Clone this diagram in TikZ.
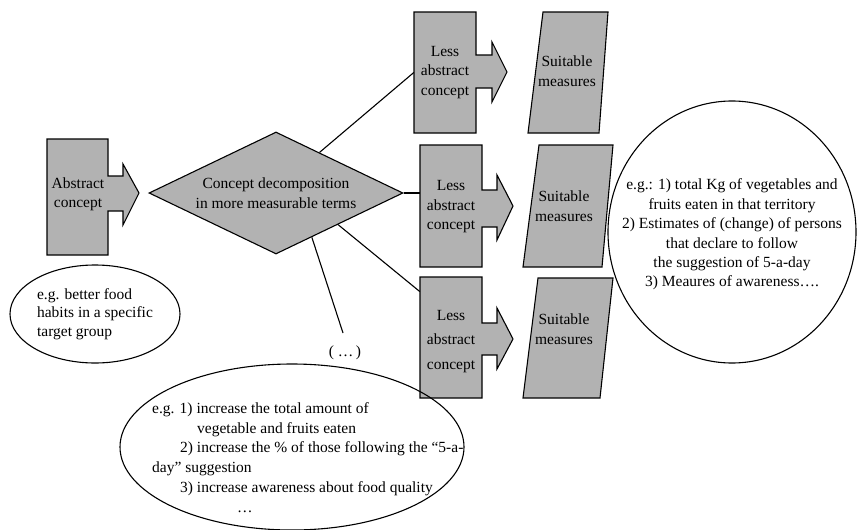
\documentclass[tikz,border=0pt]{standalone}
\usepackage{fontspec}
\setmainfont{Liberation Serif}
\usetikzlibrary{shapes.geometric}
\definecolor{boxgray}{RGB}{178,178,178}
\begin{document}
\begin{tikzpicture}[x=1pt,y=-1pt,
  shapeline/.style={draw=black,line width=1.1pt,fill=boxgray,line join=miter},
  link/.style={draw=black,line width=1.1pt},
  txt/.style={font=\fontsize{15.5}{19.5}\selectfont,inner sep=0pt,align=center},
  slot/.style={txt,minimum width=62pt,minimum height=121pt},
  bubble/.style={draw=black,line width=1.1pt,ellipse,inner sep=0pt}
]
\useasboundingbox (0,0) rectangle (857,530);

% abstract concept box with its arrow
\draw[shapeline] (47,139) -- (108,139) -- (108,176) -- (123,176) -- (123,164)
  -- (139,193) -- (123,225) -- (123,211) -- (108,211) -- (108,255) -- (47,255) -- cycle;
\node[slot,minimum width=61pt,minimum height=116pt] (abs) at (78,194.5) {Abstract\\concept};

% decomposition diamond
\node[shapeline,txt,diamond,aspect=2,minimum width=254pt,minimum height=122pt]
  (dec) at (276,193) {Concept decomposition\\in more measurable terms};

% less abstract concept boxes with arrows
\draw[shapeline] (414,12) -- (476,12) -- (476,55) -- (492,55) -- (492,42)
  -- (507,72) -- (492,102) -- (492,88) -- (476,88) -- (476,133) -- (414,133) -- cycle;
\node[slot] (lac1) at (445,72.5) {Less\\abstract\\concept};

\draw[shapeline] (420,145) -- (482,145) -- (482,190) -- (497,190) -- (497,175)
  -- (513,206) -- (497,240) -- (497,227) -- (482,227) -- (482,267) -- (420,267) -- cycle;
\node[slot] (lac2) at (451,207) {Less\\abstract\\concept};

\draw[shapeline] (420,277) -- (482,277) -- (482,323) -- (497,323) -- (497,308)
  -- (513,339) -- (497,369) -- (497,355) -- (482,355) -- (482,398) -- (420,398) -- cycle;
\node[slot,font=\fontsize{15.5}{24.5}\selectfont] (lac3) at (451,341.5) {Less\\abstract\\concept};

% suitable measures
\draw[shapeline] (543,12) -- (608,12) -- (599,133) -- (528,133) -- cycle;
\node[txt] (sm1) at (567,71) {Suitable\\measures};
\draw[shapeline] (539,145) -- (613,145) -- (602,267) -- (523,267) -- cycle;
\node[txt] (sm2) at (564,206) {Suitable\\measures};
\draw[shapeline] (538,278) -- (613,278) -- (600,398) -- (523,398) -- cycle;
\node[txt] (sm3) at (564,329) {Suitable\\measures};

% connectors from the diamond
\coordinate (more end) at (343,333);
\draw[link] (dec.43.6) -- (lac1.west);
\draw[link] (dec.east) -- (dec.east -| lac2.west);
\draw[link] (dec.-27) -- (lac3.122.6);
\draw[link] (dec.-51.3) -- (more end);
\node[txt] (more) at (345,353) {( …\,)};

% example bubbles
\node[bubble,txt,align=left,font=\fontsize{15.5}{18.5}\selectfont,
  minimum width=170pt,minimum height=98pt] (goal) at (95,314)
  {e.g. better food\\habits in a specific\\target group};

\node[bubble,minimum width=248pt,minimum height=262pt] (meas) at (732,232) {};
\node[txt,font=\fontsize{15.5}{19.4}\selectfont] (meastxt) at (732,234.5)
  {e.g.: 1) total Kg of vegetables and\\fruits eaten in that territory\\
   2) Estimates of (change) of persons\\that declare to follow\\
   the suggestion of 5-a-day\\3) Meaures of awareness….};

\node[bubble,minimum width=344pt,minimum height=166pt] (aims) at (292,447) {};
\node[txt,align=left,anchor=west,font=\fontsize{15.5}{19.8}\selectfont] (aimstxt) at (152,457.5)
  {e.g. 1) increase the total amount of\\
   \hspace*{45pt}vegetable and fruits eaten\\
   \hspace*{28pt}2) increase the \% of those following the “5-a-\\
   day” suggestion\\
   \hspace*{28pt}3) increase awareness about food quality\\
   \hspace*{85pt}…};
\end{tikzpicture}
\end{document}
